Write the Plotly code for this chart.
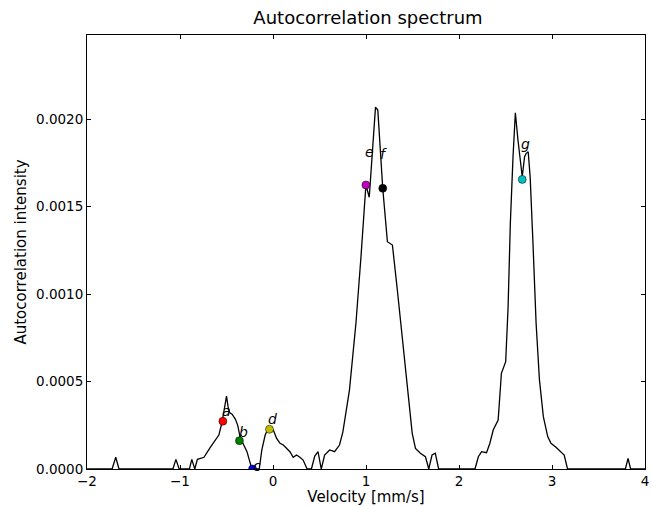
import plotly.graph_objects as go

# Spectrum curve (velocity in mm/s, intensity)
velocity = [-2.0, -1.730, -1.691, -1.656, -1.076, -1.044, -1.009, -0.899, -0.873, -0.841,
            -0.813, -0.742, -0.671, -0.617, -0.582, -0.547, -0.529, -0.500, -0.483, -0.468,
            -0.440, -0.404, -0.380, -0.351, -0.323, -0.280, -0.227, -0.191, -0.148, -0.120,
            -0.084, -0.056, -0.031, 0.004, 0.039, 0.076, 0.111, 0.146, 0.182, 0.217,
            0.253, 0.289, 0.324, 0.367, 0.413, 0.449, 0.484, 0.519, 0.555, 0.609,
            0.662, 0.715, 0.751, 0.822, 0.892, 0.946, 0.982, 0.999, 1.035, 1.102,
            1.127, 1.180, 1.230, 1.252, 1.284, 1.337, 1.408, 1.462, 1.497, 1.532,
            1.585, 1.639, 1.675, 1.710, 1.745, 1.781, 2.172, 2.208, 2.243, 2.296,
            2.332, 2.368, 2.421, 2.456, 2.502, 2.528, 2.552, 2.581, 2.606, 2.634,
            2.670, 2.680, 2.705, 2.723, 2.744, 2.765, 2.794, 2.829, 2.865, 2.907,
            2.954, 2.989, 3.043, 3.096, 3.131, 3.167, 3.789, 3.818, 3.845, 4.0]
intensity_e3 = [0, 0, 0.067, 0, 0, 0.055, 0, 0, 0.055, 0,
                0.055, 0.067, 0.127, 0.170, 0.194, 0.270, 0.337, 0.417, 0.356, 0.322,
                0.313, 0.284, 0.251, 0.175, 0.147, 0.099, 0.0, 0.0, 0.0, 0.109,
                0.194, 0.227, 0.227, 0.223, 0.175, 0.147, 0.137, 0.118, 0.099, 0.067,
                0.080, 0.067, 0.051, 0, 0, 0.074, 0.099, 0, 0.080, 0.109,
                0.099, 0.137, 0.211, 0.451, 0.834, 1.213, 1.537, 1.623, 1.553, 2.067,
                2.051, 1.604, 1.299, 1.290, 1.280, 1.023, 0.642, 0.356, 0.204, 0.118,
                0.090, 0.070, 0, 0.080, 0.090, 0, 0, 0.070, 0.099, 0.093,
                0.147, 0.223, 0.280, 0.547, 0.613, 0.927, 1.404, 1.785, 2.036, 1.880,
                1.699, 1.670, 1.785, 1.804, 1.813, 1.670, 1.309, 0.833, 0.509, 0.299,
                0.185, 0.147, 0.124, 0.099, 0.080, 0, 0, 0.061, 0, 0]
intensity = [v * 1e-3 for v in intensity_e3]

# Marked points
point_names = ["a", "b", "c", "d", "e", "f", "g"]
point_x = [-0.539, -0.361, -0.220, -0.038, 0.999, 1.180, 2.680]
point_y = [0.000273, 0.000162, 0.0, 0.000227, 0.001623, 0.001604, 0.001655]
point_colors = ["#ff0000", "#008000", "#0000ff", "#bfbf00", "#bf00bf", "#000000", "#00bfbf"]
label_x = [-0.497, -0.316, -0.177, -0.003, 1.035, 1.193, 2.712]
label_y = [0.000331, 0.000211, 0.000017, 0.000284, 0.00181, 0.00180, 0.00186]

x_ticks = [-2, -1, 0, 1, 2, 3, 4]
x_tick_text = ["\u22122", "\u22121", "0", "1", "2", "3", "4"]
y_ticks = [0.0, 0.0005, 0.0010, 0.0015, 0.0020]

FONT = "DejaVu Sans"

fig = go.Figure()
fig.add_trace(go.Scatter(x=velocity, y=intensity, mode="lines",
                         line=dict(color="black", width=1.3), showlegend=False,
                         hoverinfo="skip"))
fig.add_trace(go.Scatter(x=point_x, y=point_y, mode="markers",
                         marker=dict(color=point_colors, size=8,
                                     line=dict(color="black", width=0.5)),
                         showlegend=False))
for name, lx, ly in zip(point_names, label_x, label_y):
    fig.add_annotation(x=lx, y=ly, text="<i>%s</i>" % name, showarrow=False,
                       font=dict(size=14, color="black", family=FONT))

axis_common = dict(showline=True, linecolor="black", linewidth=1, mirror="allticks",
                   ticks="inside", ticklen=4, tickcolor="black", showgrid=False,
                   zeroline=False, ticklabeloverflow="allow",
                   tickfont=dict(size=13.5, color="black", family=FONT))
fig.update_xaxes(range=[-2, 4], tickvals=x_ticks, ticktext=x_tick_text,
                 title=dict(text="Velocity [mm/s]", standoff=3,
                            font=dict(size=15, color="black", family=FONT)),
                 **axis_common)
fig.update_yaxes(range=[0, 0.00248], tickvals=y_ticks, tickformat=".4f",
                 title=dict(text="Autocorrelation intensity", standoff=5,
                            font=dict(size=15, color="black", family=FONT)),
                 **axis_common)
fig.update_layout(
    width=652, height=506,
    margin=dict(l=87, r=3, t=35, b=37),
    plot_bgcolor="white", paper_bgcolor="white",
    title=dict(text="Autocorrelation spectrum", x=(87 + 649) / 2 / 652, xanchor="center",
               yref="container", y=1 - 18 / 506, yanchor="middle",
               font=dict(size=18, color="black", family=FONT)),
)
fig.write_html("out.html")
